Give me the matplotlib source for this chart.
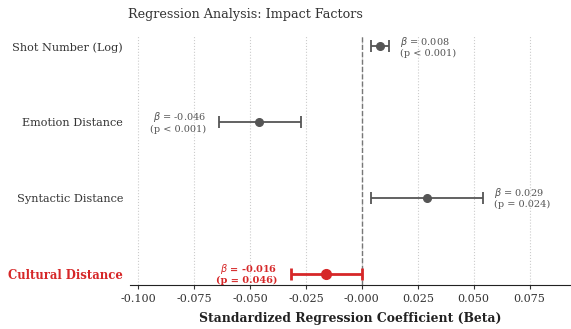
import numpy as np
import matplotlib as mpl
mpl.use('Agg')
import matplotlib.pyplot as plt

plt.rcParams['font.family'] = 'DejaVu Serif'

labels = ['Shot Number (Log)', 'Emotion Distance', 'Syntactic Distance', 'Cultural Distance']
beta = [0.008, -0.046, 0.029, -0.016]
ci_low = [0.004, -0.0638, 0.004, -0.0317]
ci_high = [0.012, -0.0272, 0.054, 0.0]
pvals = ['p < 0.001', 'p < 0.001', 'p = 0.024', 'p = 0.046']
highlight = [False, False, False, True]

gray = '#555555'
red = '#d62728'

fig = plt.figure(figsize=(5.71, 3.29), dpi=100)
ax = fig.add_axes([0.228, 0.134, 0.77, 0.76])

n = len(labels)
ypos = np.arange(n)[::-1]

for i in range(n):
    c = red if highlight[i] else gray
    lw = 2.0 if highlight[i] else 1.3
    ms = 7 if highlight[i] else 5.5
    err = [[beta[i] - ci_low[i]], [ci_high[i] - beta[i]]]
    ax.errorbar(beta[i], ypos[i], xerr=err, fmt='o', color=c, ecolor=c,
                elinewidth=lw, capsize=4, capthick=lw, markersize=ms, zorder=3)
    txt = '$\\beta$ = %.3f\n(%s)' % (beta[i], pvals[i])
    fw = 'bold' if highlight[i] else 'normal'
    if beta[i] > 0:
        ax.text(ci_high[i] + 0.005, ypos[i], txt, ha='left', va='center',
                fontsize=7, color=c, fontweight=fw, linespacing=1.0)
    else:
        ax.text(ci_low[i] - 0.006, ypos[i], txt, ha='right', va='center',
                fontsize=7, color=c, fontweight=fw, linespacing=1.0)

ax.axvline(0, color='#777777', linestyle='--', linewidth=1, zorder=1)

ax.set_yticks(ypos)
ax.set_yticklabels(labels, fontsize=8.1, color='#333333')
for tl, h in zip(ax.get_yticklabels(), highlight):
    if h:
        tl.set_color(red)
        tl.set_fontweight('bold')
        tl.set_fontsize(8.4)
ax.tick_params(axis='y', length=0, pad=5)
ax.tick_params(axis='x', labelsize=8, colors='#333333', length=3)

ax.set_xlim(-0.1036, 0.093)
ax.set_ylim(-0.15, 3.15)
ax.set_xticks(np.arange(-0.1, 0.08, 0.025))
ax.xaxis.set_major_formatter(mpl.ticker.FormatStrFormatter('%.3f'))
ax.grid(axis='x', linestyle=':', color='#cccccc', linewidth=0.8)
ax.set_axisbelow(True)

for s in ['top', 'right', 'left']:
    ax.spines[s].set_visible(False)
ax.spines['bottom'].set_color('#222222')

ax.set_xlabel('Standardized Regression Coefficient (Beta)', fontsize=8.9,
              fontweight='bold', color='#222222', labelpad=6)
ax.set_title('Regression Analysis: Impact Factors', fontsize=9.2, color='#333333',
             loc='left', x=-0.006, pad=12)

fig.savefig('out.png', dpi=100)
